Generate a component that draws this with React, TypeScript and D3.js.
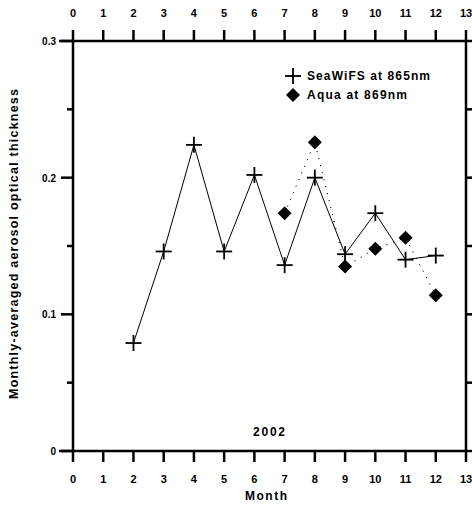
import React from "react";
import * as d3 from "d3";

// months on the x axis
const months = [0, 1, 2, 3, 4, 5, 6, 7, 8, 9, 10, 11, 12, 13];
const yTicks = [0, 0.1, 0.2, 0.3];
const yMinorTicks = [0.05, 0.15, 0.25];

// SeaWiFS at 865nm
const seaMonths = [2, 3, 4, 5, 6, 7, 8, 9, 10, 11, 12];
const seaValues = [0.079, 0.146, 0.224, 0.146, 0.202, 0.136, 0.2, 0.144, 0.174, 0.14, 0.143];

// Aqua at 869nm
const aquaMonths = [7, 8, 9, 10, 11, 12];
const aquaValues = [0.174, 0.226, 0.135, 0.148, 0.156, 0.114];

const font = "'Liberation Sans', Arial, sans-serif";

export default function App() {
  const width = 472,
    height = 507;

  const x = d3.scaleLinear().domain([0, 13]).range([73, 466]);
  const y = d3.scaleLinear().domain([0, 0.3]).range([451, 41]);

  const sea = seaMonths.map((m, i) => [m, seaValues[i]] as [number, number]);
  const aqua = aquaMonths.map((m, i) => [m, aquaValues[i]] as [number, number]);

  const line = d3
    .line<[number, number]>()
    .x(d => x(d[0]))
    .y(d => y(d[1]));

  const cross = (cx: number, cy: number, key: any) => (
    <g key={key} stroke="#000" strokeWidth={1.8}>
      <line x1={cx - 8} x2={cx + 8} y1={cy} y2={cy} />
      <line x1={cx} x2={cx} y1={cy - 8} y2={cy + 8} />
    </g>
  );

  const diamond = (cx: number, cy: number, key: any) => (
    <path
      key={key}
      d={`M${cx},${cy - 7}L${cx + 7},${cy}L${cx},${cy + 7}L${cx - 7},${cy}Z`}
      fill="#000"
    />
  );

  const x0 = x(0),
    x1 = x(13),
    yb = y(0),
    yt = y(0.3);

  return (
    <svg
      width={width}
      height={height}
      style={{ position: "absolute", left: 0, top: 0, background: "#fff" }}
      fontFamily={font}
      fontWeight="bold"
    >
      {/* frame */}
      <g stroke="#000" strokeWidth={2.5} fill="none">
        <line x1={x0 - 14} x2={x1} y1={yb} y2={yb} />
        <line x1={x0 - 14} x2={x1} y1={yt} y2={yt} />
        <line x1={x0} x2={x0} y1={yt} y2={yb} />
        <line x1={x1} x2={x1} y1={yt} y2={yb} />
      </g>

      {/* x ticks bottom and top */}
      {months.map(m => (
        <g key={"xt" + m}>
          <line x1={x(m)} x2={x(m)} y1={yb} y2={yb + 11} stroke="#000" strokeWidth={2.5} />
          <line x1={x(m)} x2={x(m)} y1={yt} y2={yt - 11} stroke="#000" strokeWidth={2.5} />
          <text x={x(m)} y={483} textAnchor="middle" fontSize={11}>
            {m}
          </text>
          <text x={x(m)} y={17} textAnchor="middle" fontSize={11}>
            {m}
          </text>
        </g>
      ))}

      {/* y ticks */}
      {yTicks.map(t => (
        <g key={"yt" + t}>
          <line x1={x0 - 12} x2={x0} y1={y(t)} y2={y(t)} stroke="#000" strokeWidth={2.5} />
          <line x1={x1} x2={x1 + 12} y1={y(t)} y2={y(t)} stroke="#000" strokeWidth={2.5} />
          <text x={x0 - 17} y={y(t) + 4} textAnchor="end" fontSize={10}>
            {t === 0 ? "0" : t.toFixed(1)}
          </text>
        </g>
      ))}
      {yMinorTicks.map(t => (
        <g key={"ym" + t}>
          <line x1={x0 - 6} x2={x0} y1={y(t)} y2={y(t)} stroke="#000" strokeWidth={2.5} />
          <line x1={x1} x2={x1 + 6} y1={y(t)} y2={y(t)} stroke="#000" strokeWidth={2.5} />
        </g>
      ))}

      {/* axis titles */}
      <text x={266} y={500} textAnchor="middle" fontSize={12} textLength={42}>
        Month
      </text>
      <text
        transform={`translate(18,244) rotate(-90)`}
        textAnchor="middle"
        fontSize={12.5}
        textLength={310}
        lengthAdjust="spacing"
      >
        Monthly-averaged aerosol optical thickness
      </text>
      <text x={269} y={436} textAnchor="middle" fontSize={12} textLength={32}>
        2002
      </text>

      {/* series */}
      <path d={line(aqua) || ""} fill="none" stroke="#000" strokeWidth={1} strokeDasharray="1.2,6" />
      <path d={line(sea) || ""} fill="none" stroke="#000" strokeWidth={1} />
      {sea.map((d, i) => cross(x(d[0]), y(d[1]), "s" + i))}
      {aqua.map((d, i) => diamond(x(d[0]), y(d[1]), "a" + i))}

      {/* legend */}
      {cross(293, 76, "lc")}
      <text x={307} y={80} fontSize={12} textLength={123}>
        SeaWiFS at 865nm
      </text>
      {diamond(293, 95, "ld")}
      <text x={307} y={99} fontSize={12} textLength={100}>
        Aqua at 869nm
      </text>
    </svg>
  );
}
